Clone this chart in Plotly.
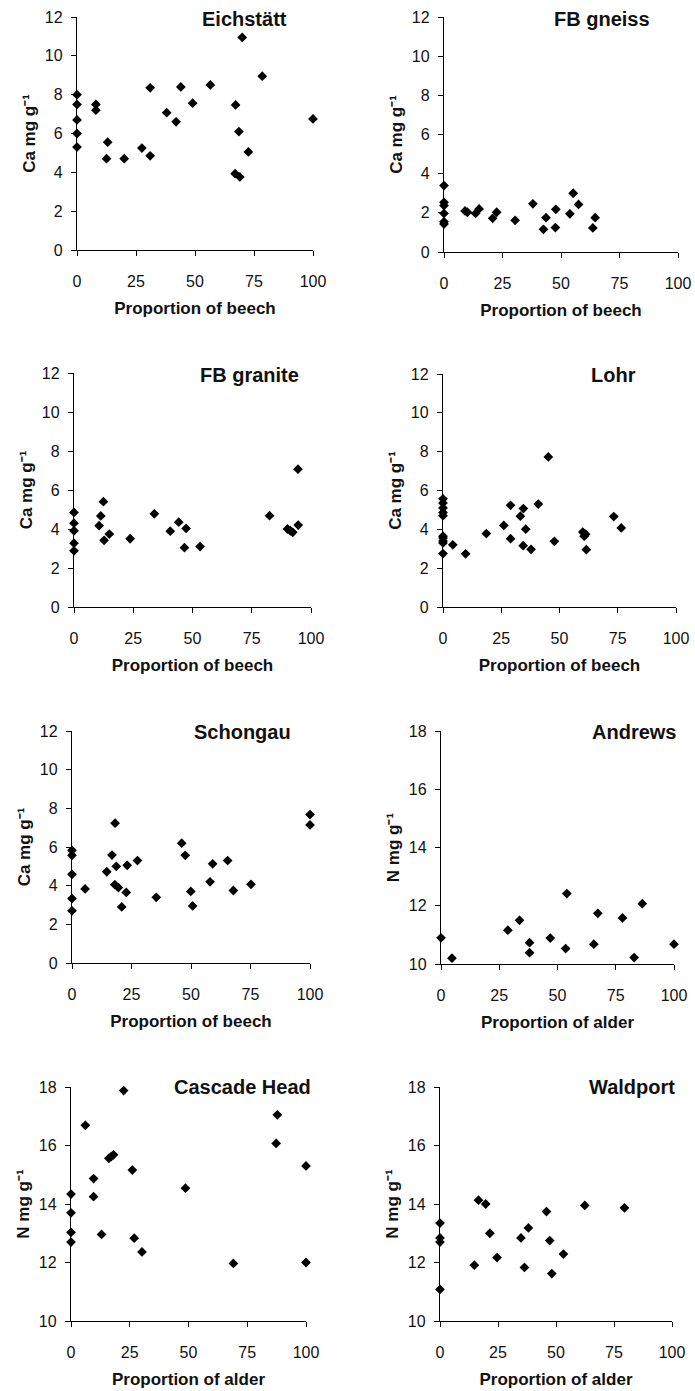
import plotly.graph_objects as go

W, H = 695, 1391

# ---------------- data ----------------
eich_x = [0, 0, 0, 0, 0, 8, 8, 13, 12.5, 20, 27.5, 31, 31, 38, 42, 44, 49, 56.5, 70, 78.5, 67.2, 68.6, 72.6, 67, 69, 100]
eich_y = [8.0, 7.5, 6.7, 6.0, 5.3, 7.5, 7.2, 5.55, 4.7, 4.7, 5.25, 4.85, 8.35, 7.07, 6.6, 8.4, 7.56, 8.5, 10.95, 8.95, 7.47, 6.1, 5.05, 3.93, 3.76, 6.75]

gneiss_x = [0, 0, 0, 0, 0, 0, 9, 10, 13.5, 15, 20.8, 22.5, 30.4, 38, 42.5, 43.6, 47.6, 47.8, 53.8, 55.2, 57.5, 63.6, 64.6]
gneiss_y = [3.39, 2.54, 2.37, 1.97, 1.55, 1.43, 2.1, 2.03, 1.97, 2.2, 1.72, 2.03, 1.62, 2.46, 1.16, 1.75, 1.25, 2.18, 1.95, 3.0, 2.43, 1.23, 1.75]

granite_x = [0, 0, 0, 0, 0, 10.6, 11.3, 12.4, 12.7, 14.9, 23.7, 33.9, 40.6, 44.2, 47.3, 46.6, 53.2, 82.5, 90.1, 91.3, 92.3, 94.5, 94.6]
granite_y = [4.85, 4.3, 3.91, 3.27, 2.88, 4.17, 4.67, 5.4, 3.42, 3.74, 3.5, 4.78, 3.89, 4.35, 4.03, 3.04, 3.1, 4.68, 4.0, 3.91, 3.83, 7.07, 4.2]

lohr_x = [0, 0, 0, 0, 0, 0, 0, 0, 0, 0, 4.2, 9.7, 18.6, 26.1, 29, 29, 33.2, 34.5, 34.4, 35.5, 37.8, 40.9, 45.2, 47.8, 60, 60.6, 61.2, 61.5, 73.3, 76.5]
lohr_y = [5.57, 5.35, 5.1, 4.87, 4.7, 3.65, 3.55, 3.4, 3.3, 2.75, 3.2, 2.74, 3.78, 4.2, 5.24, 3.52, 4.68, 5.07, 3.16, 4.01, 2.97, 5.3, 7.73, 3.38, 3.86, 3.65, 3.75, 2.95, 4.66, 4.07]

schon_x = [0, 0, 0, 0, 0, 5.5, 14.6, 16.8, 18.1, 18.6, 18, 19.5, 20.9, 23.2, 22.8, 27.5, 35.4, 46.1, 47.6, 49.9, 50.7, 58, 59.1, 65.4, 67.8, 75.2, 100, 100]
schon_y = [5.83, 5.57, 4.59, 3.33, 2.7, 3.83, 4.72, 5.58, 7.23, 5.0, 4.05, 3.9, 2.9, 5.05, 3.65, 5.3, 3.4, 6.2, 5.57, 3.7, 2.95, 4.2, 5.13, 5.3, 3.75, 4.07, 7.68, 7.14]

andrews_x = [0, 4.7, 28.7, 33.7, 38, 38, 46.9, 53.5, 54, 65.6, 67.3, 77.9, 82.9, 86.4, 100]
andrews_y = [10.9, 10.2, 11.16, 11.5, 10.73, 10.39, 10.89, 10.53, 12.42, 10.68, 11.74, 11.58, 10.22, 12.07, 10.68]

cascade_x = [0, 0, 0, 0, 6.1, 9.6, 9.6, 13, 16.1, 17.1, 18.1, 22.4, 26.1, 26.9, 30.2, 48.7, 69.1, 87.3, 87.8, 100, 100]
cascade_y = [14.34, 13.7, 13.03, 12.7, 16.69, 14.87, 14.25, 12.96, 15.56, 15.62, 15.68, 17.88, 15.16, 12.83, 12.36, 14.54, 11.97, 16.07, 17.05, 15.3, 12.0]

wald_x = [0, 0, 0, 0, 14.8, 16.6, 19.7, 21.5, 24.6, 34.9, 36.4, 38.1, 45.9, 47.3, 48.2, 53.2, 62.4, 79.5]
wald_y = [13.35, 12.84, 12.7, 11.08, 11.91, 14.13, 14.0, 13.0, 12.17, 12.84, 11.83, 13.18, 13.74, 12.75, 11.62, 12.29, 13.95, 13.87]

titles = ["Eichstätt", "FB gneiss", "FB granite", "Lohr", "Schongau", "Andrews", "Cascade Head", "Waldport"]
xlabels = ["Proportion of beech"] * 5 + ["Proportion of alder"] * 3
ylabels = ["Ca mg g⁻¹"] * 5 + ["N mg g⁻¹"] * 3
xs = [eich_x, gneiss_x, granite_x, lohr_x, schon_x, andrews_x, cascade_x, wald_x]
ys = [eich_y, gneiss_y, granite_y, lohr_y, schon_y, andrews_y, cascade_y, wald_y]
yranges = [[0, 12]] * 5 + [[10, 18]] * 3
xtick_vals = [0, 25, 50, 75, 100]

# ---------------- layout geometry (pixels) ----------------
boxes = [  # x0, x1, ytop, ybottom
    (77, 313, 17, 250), (444, 678, 17, 252),
    (74, 311, 373, 607), (443, 676, 374, 607),
    (72, 310, 731, 963), (441, 674, 731, 964),
    (71, 306, 1087, 1321), (440, 672, 1087, 1321),
]
title_pos = [(245, 19), (602, 19), (249, 375), (613, 375), (242, 732), (634, 732), (242, 1087), (632, 1087)]

FONT = "Liberation Sans, Arial, sans-serif"

def px(x):
    return x / W

def py(y):
    return 1 - y / H

fig = go.Figure()
layout = dict(
    width=W, height=H, margin=dict(l=0, r=0, t=0, b=0),
    paper_bgcolor="white", plot_bgcolor="white", showlegend=False,
    font=dict(family=FONT, size=16, color="#111"),
)
annotations = []
for i in range(8):
    n = "" if i == 0 else str(i + 1)
    fig.add_trace(go.Scatter(
        x=xs[i], y=ys[i], mode="markers", xaxis="x" + n, yaxis="y" + n,
        marker=dict(symbol="diamond", size=7.5, color="black"),
        cliponaxis=False, hoverinfo="x+y",
    ))
    x0, x1, yt, yb = boxes[i]
    common = dict(showline=True, linecolor="black", linewidth=1.3, ticks="outside",
                  ticklen=5, tickwidth=1.3, tickcolor="black", showgrid=False,
                  zeroline=False, tickfont=dict(family=FONT, size=16, color="#111"),
                  automargin=False)
    layout["xaxis" + n] = dict(domain=[px(x0), px(x1)], anchor="y" + n, range=[0, 100],
                               tickvals=xtick_vals, ticklabelstandoff=12, fixedrange=True,
                               title=dict(text=xlabels[i], standoff=12,
                                          font=dict(family=FONT, size=17, color="#111", weight="bold")),
                               **common)
    layout["yaxis" + n] = dict(domain=[py(yb), py(yt)], anchor="x" + n, range=yranges[i],
                               dtick=2, ticklabelstandoff=5, fixedrange=True,
                               title=dict(text=ylabels[i], standoff=4,
                                          font=dict(family=FONT, size=17, color="#111", weight="bold")),
                               **common)
    tx, ty = title_pos[i]
    annotations.append(dict(text=titles[i], x=px(tx), y=py(ty), xref="paper", yref="paper",
                            showarrow=False, xanchor="center", yanchor="middle",
                            font=dict(family=FONT, size=20, color="#111", weight="bold")))
layout["annotations"] = annotations
fig.update_layout(**layout)
fig.write_html("out.html")
